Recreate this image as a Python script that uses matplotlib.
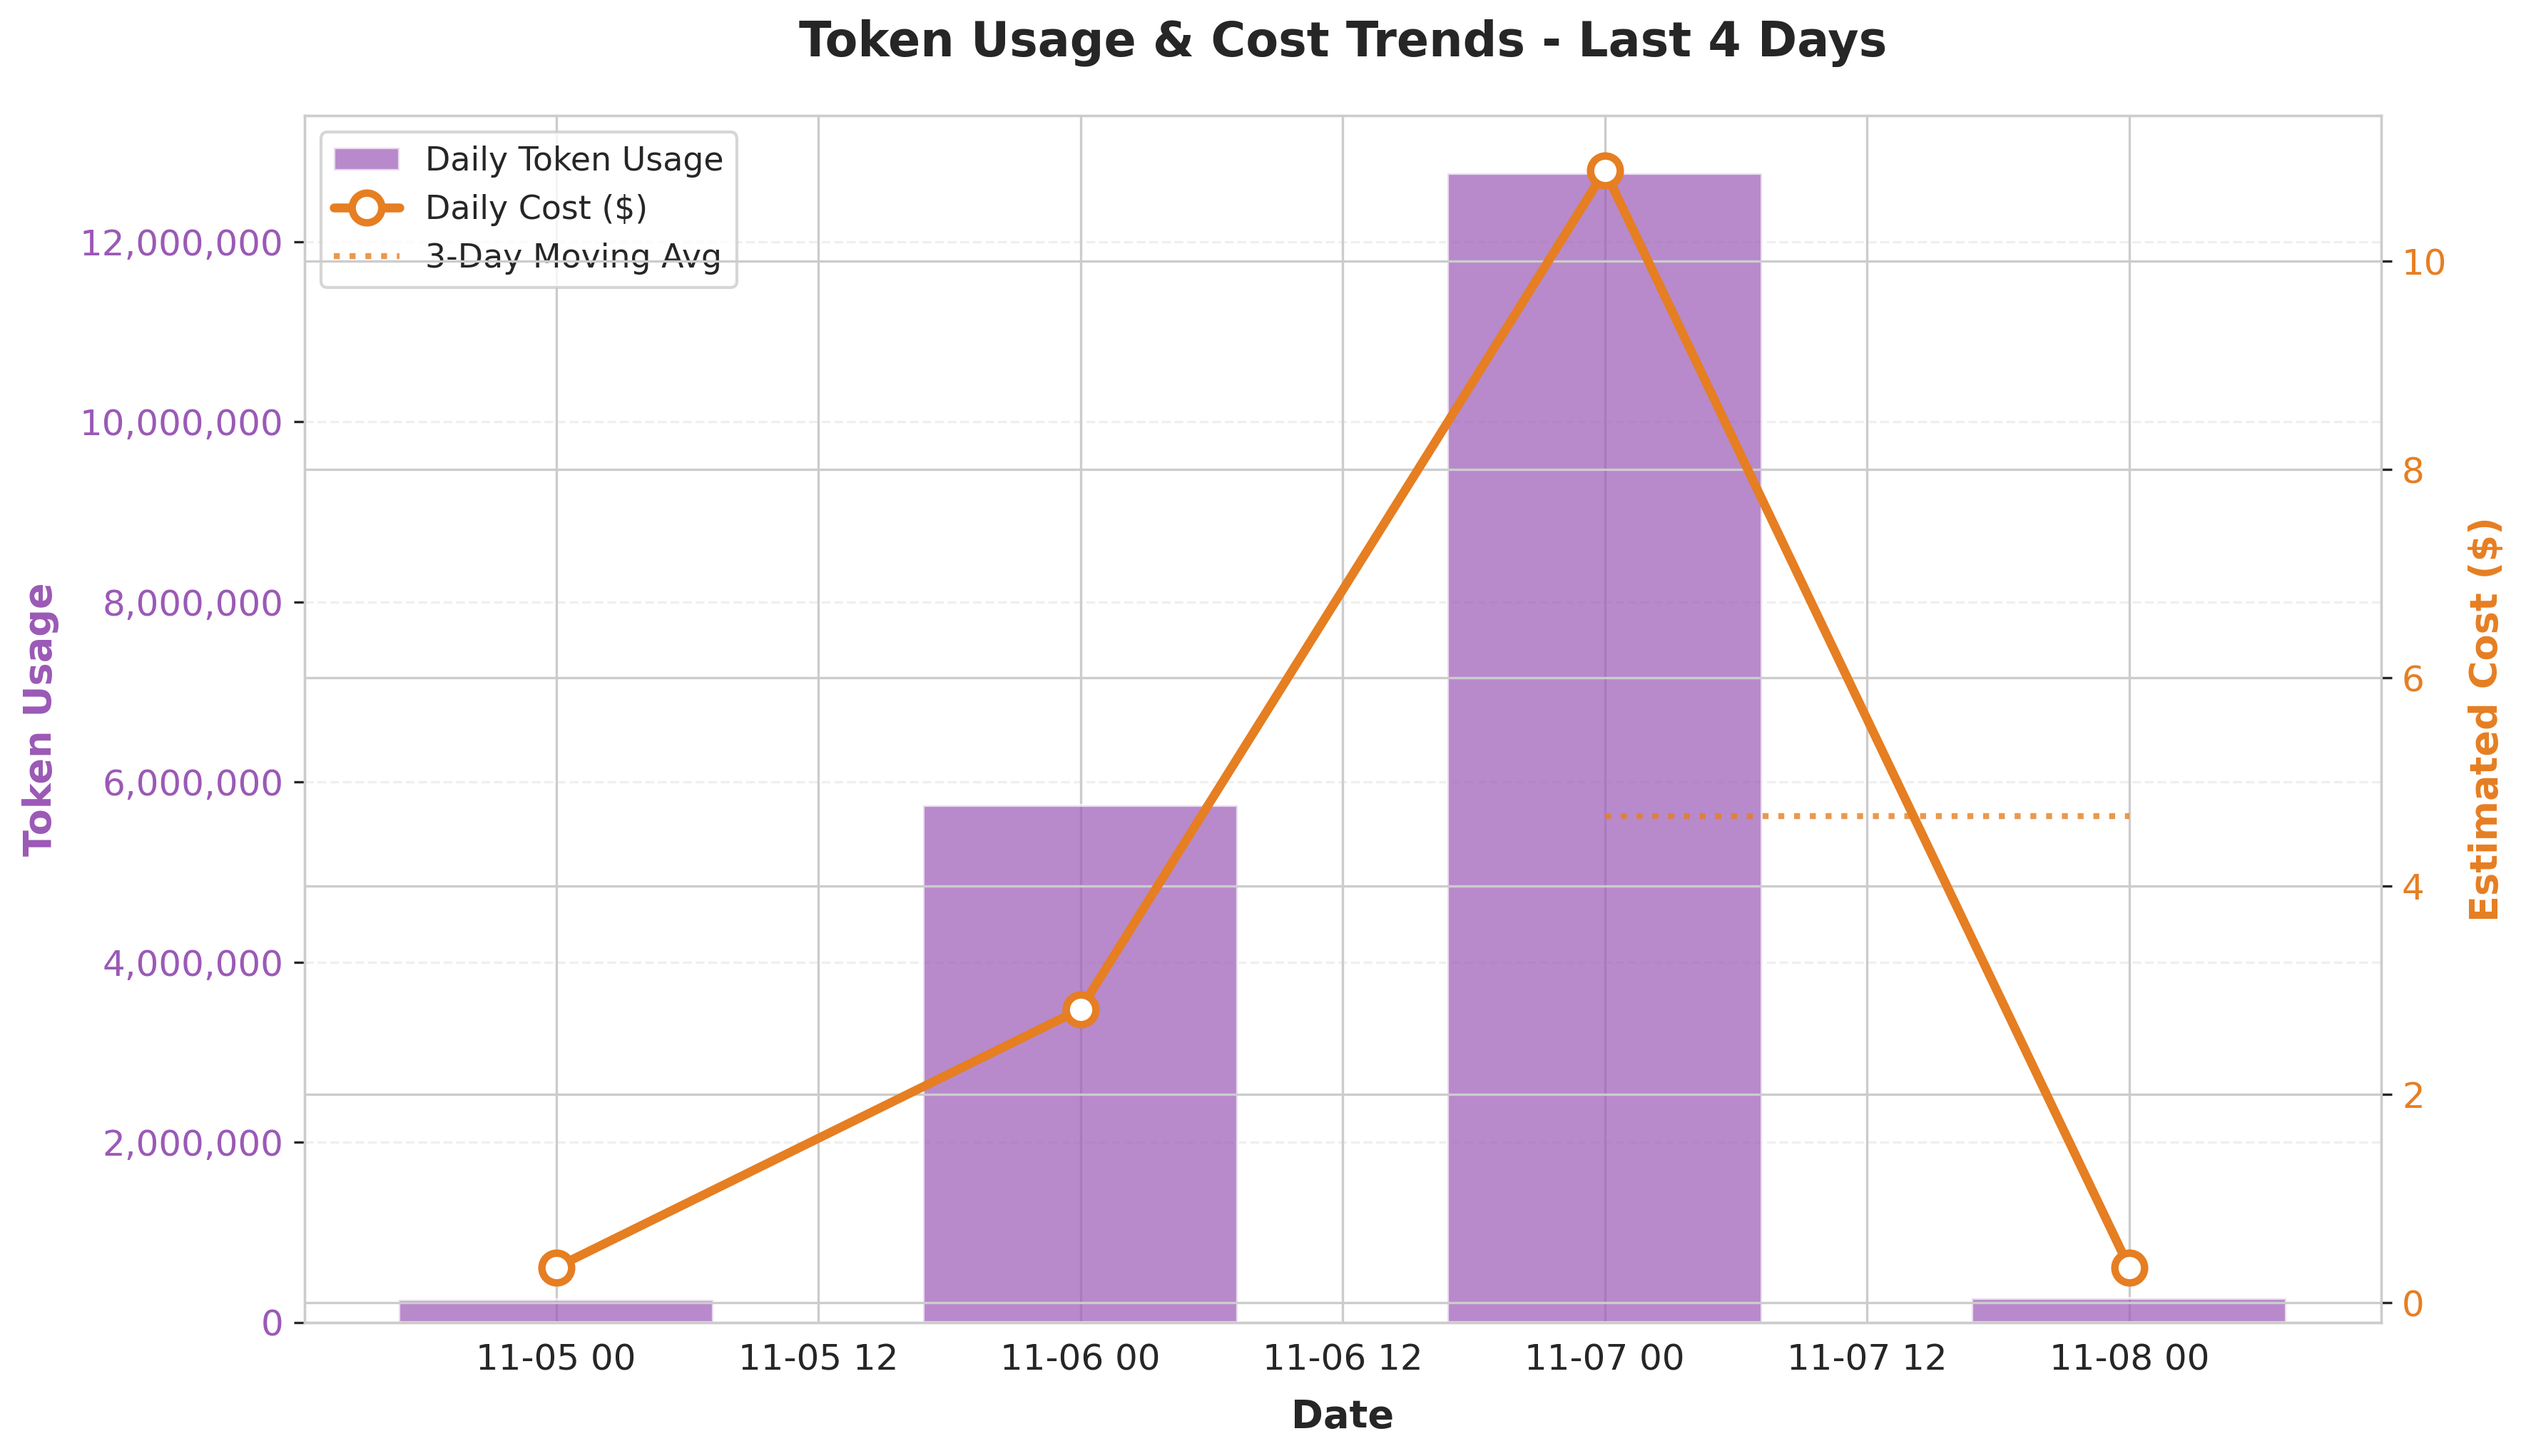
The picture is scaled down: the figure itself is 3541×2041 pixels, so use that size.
import numpy as np
import pandas as pd
import matplotlib
matplotlib.use("Agg")
import matplotlib.pyplot as plt
import matplotlib.dates as mdates
from matplotlib.ticker import FuncFormatter
import seaborn as sns

sns.set_style("whitegrid")

# values
dates = pd.to_datetime(["2025-11-05", "2025-11-06", "2025-11-07", "2025-11-08"])
tokens = [250000, 5740000, 12760000, 270000]
cost = [0.34, 2.82, 10.87, 0.34]

purple = "#9b59b6"
orange = "#e67e22"

moving_avg = pd.Series(cost, index=dates).rolling(3).mean()

fig, ax1 = plt.subplots(figsize=(3541 / 300, 2041 / 300), dpi=300)
fig.subplots_adjust(left=0.1205, right=0.9426, top=0.9204, bottom=0.0918)

ax1.bar(dates, tokens, width=0.6, color=purple, alpha=0.7, label="Daily Token Usage")
ax1.set_xlabel("Date", fontsize=13, fontweight="bold", labelpad=7)
ax1.set_ylabel("Token Usage", fontsize=13, fontweight="bold", color=purple, labelpad=7)
ax1.tick_params(axis="y", labelcolor=purple, labelsize=12)
ax1.tick_params(axis="x", labelsize=12)
ax1.yaxis.set_major_formatter(FuncFormatter(lambda v, p: f"{int(v):,}"))
ax1.grid(True, axis="y", alpha=0.3, linestyle="--")

ax2 = ax1.twinx()
ax2.plot(dates, cost, color=orange, linewidth=3, marker="o", markersize=10,
         markerfacecolor="white", markeredgewidth=2.5, label="Daily Cost ($)")
ax2.plot(moving_avg.index, moving_avg.values, color=orange, linestyle=":",
         linewidth=2, alpha=0.8, label="3-Day Moving Avg")
ax2.set_ylabel("Estimated Cost ($)", fontsize=13, fontweight="bold", color=orange, labelpad=7)
ax2.tick_params(axis="y", labelcolor=orange, labelsize=12)

ax1.xaxis.set_major_formatter(mdates.DateFormatter("%m-%d %H"))

h1, l1 = ax1.get_legend_handles_labels()
h2, l2 = ax2.get_legend_handles_labels()
ax1.legend(h1 + h2, l1 + l2, loc="upper left", fontsize=11)

plt.title("Token Usage & Cost Trends - Last 4 Days", fontsize=16, fontweight="bold", pad=20)
plt.savefig("out.png", dpi=300)
